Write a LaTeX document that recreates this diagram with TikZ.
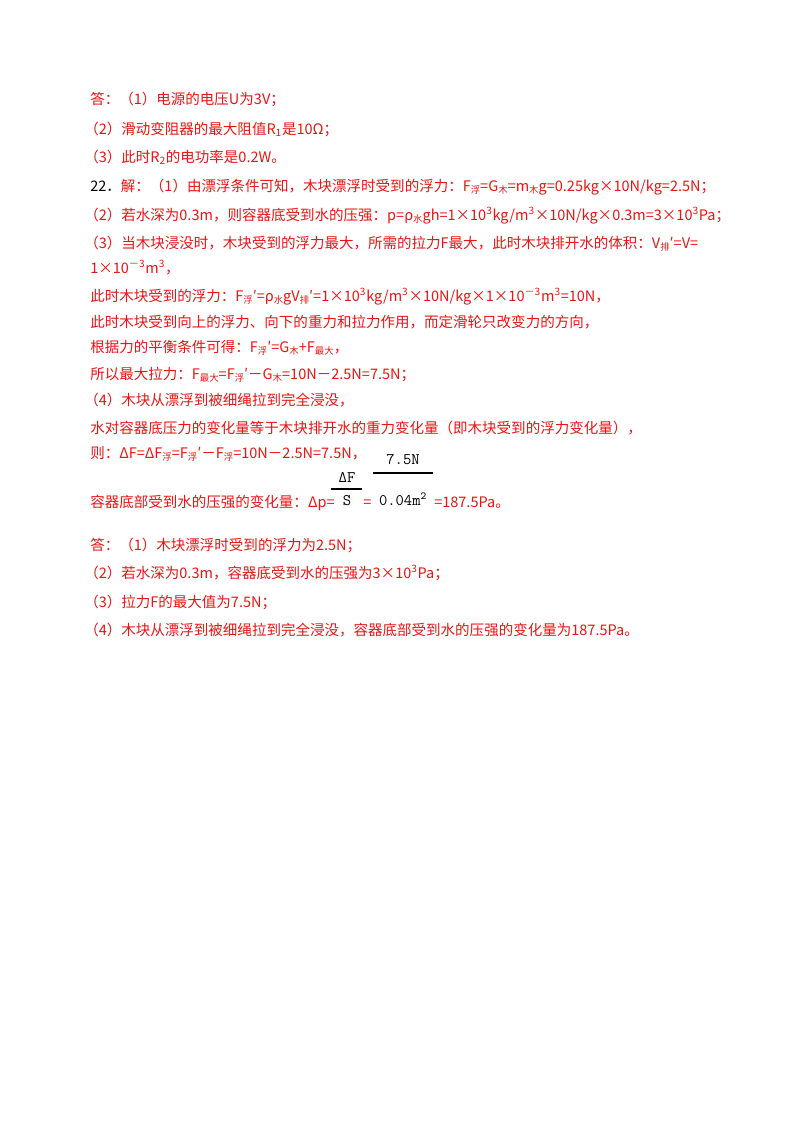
\documentclass[tikz,border=0pt]{standalone}
\usepackage{fontspec}
\setmainfont{Liberation Serif}
\newfontfamily\cj{Noto Sans CJK SC}
\definecolor{ans}{RGB}{235,20,20}
\newcommand\lo[1]{\raisebox{-0.35ex}{\fontsize{7}{8}\selectfont\cj #1}}
\newcommand\up[1]{\textsuperscript{#1}}
\begin{document}
\begin{tikzpicture}[x=0.744pt,y=-0.744pt,
  line/.style={anchor=base west,inner sep=0pt,text=ans,font=\cj\fontsize{10.8}{12}\selectfont},
  mono/.style={inner sep=0pt,anchor=base,font=\ttfamily\fontsize{12}{13}\selectfont}]
\useasboundingbox[fill=white] (0,0) rectangle (800,1132);
\node[line] (a1) at (90,104) {答：（1）电源的电压U为3V；};
\node[line] (a2) at (84,134) {（2）滑动变阻器的最大阻值R\textsubscript{1}是10Ω；};
\node[line] (a3) at (84,162) {（3）此时R\textsubscript{2}的电功率是0.2W。};
\node[line] (b1) at (90,191) {\textcolor{black}{22．}解：（1）由漂浮条件可知，木块漂浮时受到的浮力：F\lo{浮}=G\lo{木}=m\lo{木}g=0.25kg×10N/kg=2.5N；};
\node[line] (b2) at (84,220) {（2）若水深为0.3m，则容器底受到水的压强：p=ρ\lo{水}gh=1×10\up{3}kg/m\up{3}×10N/kg×0.3m=3×10\up{3}Pa；};
\node[line] (b3) at (84,248) {（3）当木块浸没时，木块受到的浮力最大，所需的拉力F最大，此时木块排开水的体积：V\lo{排}′=V=};
\node[line] (b4) at (90,273) {1×10\up{－3}m\up{3}，};
\node[line] (b5) at (90,301) {此时木块受到的浮力：F\lo{浮}′=ρ\lo{水}gV\lo{排}′=1×10\up{3}kg/m\up{3}×10N/kg×1×10\up{－3}m\up{3}=10N，};
\node[line] (b6) at (90,327) {此时木块受到向上的浮力、向下的重力和拉力作用，而定滑轮只改变力的方向，};
\node[line] (b7) at (90,352) {根据力的平衡条件可得：F\lo{浮}′=G\lo{木}+F\lo{最大}，};
\node[line] (b8) at (90,379) {所以最大拉力：F\lo{最大}=F\lo{浮}′－G\lo{木}=10N－2.5N=7.5N；};
\node[line] (b9) at (84,405) {（4）木块从漂浮到被细绳拉到完全浸没，};
\node[line] (b10) at (90,433) {水对容器底压力的变化量等于木块排开水的重力变化量（即木块受到的浮力变化量），};
\node[line] (b11) at (90,458) {则：ΔF=ΔF\lo{浮}=F\lo{浮}′－F\lo{浮}=10N－2.5N=7.5N，};
\node[line] (b12) at (90,507) {容器底部受到水的压强的变化量：Δp=};
\node[mono] (f1n) at (347,482) {ΔF};
\node[mono] (f1d) at (347,505) {S};
\coordinate (f1l) at (331,489);
\coordinate (f1r) at (362,489);
\draw[line width=0.8pt] (f1l) -- (f1r);
\node[line] (eq1) at (363,507) {=};
\node[mono] (f2n) at (403,464) {7.5N};
\node[mono] (f2d) at (403,505) {0.04m\up{2}};
\coordinate (f2l) at (373,473);
\coordinate (f2r) at (433,473);
\draw[line width=0.8pt] (f2l) -- (f2r);
\node[line] (eq2) at (434,507) {=187.5Pa。};
\node[line] (c1) at (90,550) {答：（1）木块漂浮时受到的浮力为2.5N；};
\node[line] (c2) at (84,578) {（2）若水深为0.3m，容器底受到水的压强为3×10\up{3}Pa；};
\node[line] (c3) at (84,607) {（3）拉力F的最大值为7.5N；};
\node[line] (c4) at (84,635) {（4）木块从漂浮到被细绳拉到完全浸没，容器底部受到水的压强的变化量为187.5Pa。};
\end{tikzpicture}
\end{document}
